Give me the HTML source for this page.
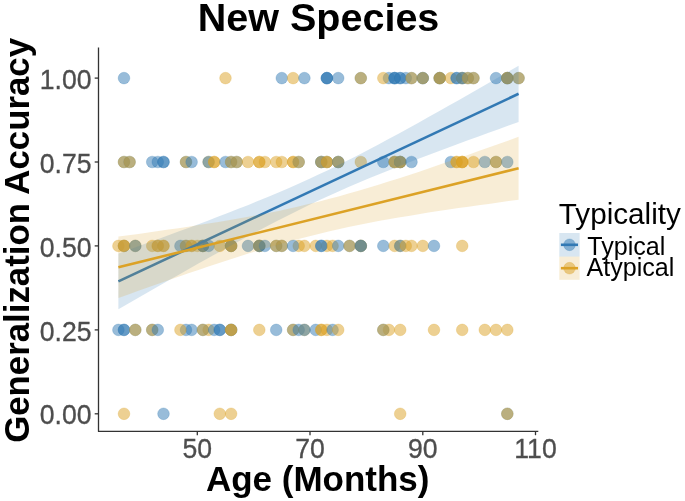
<!DOCTYPE html>
<html><head><meta charset="utf-8"><title>New Species</title>
<style>
html,body{margin:0;padding:0;background:#fff;}
svg{display:block;font-family:"Liberation Sans",sans-serif;}
svg{will-change:transform;}
</style></head>
<body>
<svg width="685" height="501" viewBox="0 0 685 501">
<rect width="685" height="501" fill="#fff"/>
<g id="points">
<circle cx="124.0" cy="78.1" r="5.85" fill="#3279B4" fill-opacity=".5" stroke="#3279B4" stroke-opacity=".28" stroke-width="0.9"/>
<circle cx="225.5" cy="78.1" r="5.85" fill="#DCA226" fill-opacity=".5" stroke="#DCA226" stroke-opacity=".28" stroke-width="0.9"/>
<circle cx="281.8" cy="78.1" r="5.85" fill="#3279B4" fill-opacity=".5" stroke="#3279B4" stroke-opacity=".28" stroke-width="0.9"/>
<circle cx="293.1" cy="78.1" r="5.85" fill="#DCA226" fill-opacity=".5" stroke="#DCA226" stroke-opacity=".28" stroke-width="0.9"/>
<circle cx="304.4" cy="78.1" r="5.85" fill="#3279B4" fill-opacity=".5" stroke="#3279B4" stroke-opacity=".28" stroke-width="0.9"/>
<circle cx="326.9" cy="78.1" r="5.85" fill="#3279B4" fill-opacity=".5" stroke="#3279B4" stroke-opacity=".28" stroke-width="0.9"/>
<circle cx="326.9" cy="78.1" r="5.85" fill="#3279B4" fill-opacity=".5" stroke="#3279B4" stroke-opacity=".28" stroke-width="0.9"/>
<circle cx="326.9" cy="78.1" r="5.85" fill="#3279B4" fill-opacity=".5" stroke="#3279B4" stroke-opacity=".28" stroke-width="0.9"/>
<circle cx="338.2" cy="78.1" r="5.85" fill="#3279B4" fill-opacity=".5" stroke="#3279B4" stroke-opacity=".28" stroke-width="0.9"/>
<circle cx="360.8" cy="78.1" r="5.85" fill="#3279B4" fill-opacity=".5" stroke="#3279B4" stroke-opacity=".28" stroke-width="0.9"/>
<circle cx="360.8" cy="78.1" r="5.85" fill="#DCA226" fill-opacity=".5" stroke="#DCA226" stroke-opacity=".28" stroke-width="0.9"/>
<circle cx="388.9" cy="78.1" r="5.85" fill="#3279B4" fill-opacity=".5" stroke="#3279B4" stroke-opacity=".28" stroke-width="0.9"/>
<circle cx="383.3" cy="78.1" r="5.85" fill="#DCA226" fill-opacity=".5" stroke="#DCA226" stroke-opacity=".28" stroke-width="0.9"/>
<circle cx="394.6" cy="78.1" r="5.85" fill="#3279B4" fill-opacity=".5" stroke="#3279B4" stroke-opacity=".28" stroke-width="0.9"/>
<circle cx="394.6" cy="78.1" r="5.85" fill="#3279B4" fill-opacity=".5" stroke="#3279B4" stroke-opacity=".28" stroke-width="0.9"/>
<circle cx="394.6" cy="78.1" r="5.85" fill="#3279B4" fill-opacity=".5" stroke="#3279B4" stroke-opacity=".28" stroke-width="0.9"/>
<circle cx="400.2" cy="78.1" r="5.85" fill="#3279B4" fill-opacity=".5" stroke="#3279B4" stroke-opacity=".28" stroke-width="0.9"/>
<circle cx="400.2" cy="78.1" r="5.85" fill="#3279B4" fill-opacity=".5" stroke="#3279B4" stroke-opacity=".28" stroke-width="0.9"/>
<circle cx="405.8" cy="78.1" r="5.85" fill="#3279B4" fill-opacity=".5" stroke="#3279B4" stroke-opacity=".28" stroke-width="0.9"/>
<circle cx="411.5" cy="78.1" r="5.85" fill="#3279B4" fill-opacity=".5" stroke="#3279B4" stroke-opacity=".28" stroke-width="0.9"/>
<circle cx="411.5" cy="78.1" r="5.85" fill="#DCA226" fill-opacity=".5" stroke="#DCA226" stroke-opacity=".28" stroke-width="0.9"/>
<circle cx="422.8" cy="78.1" r="5.85" fill="#3279B4" fill-opacity=".5" stroke="#3279B4" stroke-opacity=".28" stroke-width="0.9"/>
<circle cx="422.8" cy="78.1" r="5.85" fill="#3279B4" fill-opacity=".5" stroke="#3279B4" stroke-opacity=".28" stroke-width="0.9"/>
<circle cx="422.8" cy="78.1" r="5.85" fill="#DCA226" fill-opacity=".5" stroke="#DCA226" stroke-opacity=".28" stroke-width="0.9"/>
<circle cx="439.7" cy="78.1" r="5.85" fill="#3279B4" fill-opacity=".5" stroke="#3279B4" stroke-opacity=".28" stroke-width="0.9"/>
<circle cx="439.7" cy="78.1" r="5.85" fill="#DCA226" fill-opacity=".5" stroke="#DCA226" stroke-opacity=".28" stroke-width="0.9"/>
<circle cx="439.7" cy="78.1" r="5.85" fill="#3279B4" fill-opacity=".5" stroke="#3279B4" stroke-opacity=".28" stroke-width="0.9"/>
<circle cx="439.7" cy="78.1" r="5.85" fill="#DCA226" fill-opacity=".5" stroke="#DCA226" stroke-opacity=".28" stroke-width="0.9"/>
<circle cx="450.9" cy="78.1" r="5.85" fill="#DCA226" fill-opacity=".5" stroke="#DCA226" stroke-opacity=".28" stroke-width="0.9"/>
<circle cx="456.6" cy="78.1" r="5.85" fill="#3279B4" fill-opacity=".5" stroke="#3279B4" stroke-opacity=".28" stroke-width="0.9"/>
<circle cx="456.6" cy="78.1" r="5.85" fill="#3279B4" fill-opacity=".5" stroke="#3279B4" stroke-opacity=".28" stroke-width="0.9"/>
<circle cx="462.2" cy="78.1" r="5.85" fill="#3279B4" fill-opacity=".5" stroke="#3279B4" stroke-opacity=".28" stroke-width="0.9"/>
<circle cx="462.2" cy="78.1" r="5.85" fill="#DCA226" fill-opacity=".5" stroke="#DCA226" stroke-opacity=".28" stroke-width="0.9"/>
<circle cx="462.2" cy="78.1" r="5.85" fill="#3279B4" fill-opacity=".5" stroke="#3279B4" stroke-opacity=".28" stroke-width="0.9"/>
<circle cx="467.9" cy="78.1" r="5.85" fill="#3279B4" fill-opacity=".5" stroke="#3279B4" stroke-opacity=".28" stroke-width="0.9"/>
<circle cx="467.9" cy="78.1" r="5.85" fill="#DCA226" fill-opacity=".5" stroke="#DCA226" stroke-opacity=".28" stroke-width="0.9"/>
<circle cx="473.5" cy="78.1" r="5.85" fill="#3279B4" fill-opacity=".5" stroke="#3279B4" stroke-opacity=".28" stroke-width="0.9"/>
<circle cx="473.5" cy="78.1" r="5.85" fill="#DCA226" fill-opacity=".5" stroke="#DCA226" stroke-opacity=".28" stroke-width="0.9"/>
<circle cx="496.0" cy="78.1" r="5.85" fill="#3279B4" fill-opacity=".5" stroke="#3279B4" stroke-opacity=".28" stroke-width="0.9"/>
<circle cx="507.3" cy="78.1" r="5.85" fill="#3279B4" fill-opacity=".5" stroke="#3279B4" stroke-opacity=".28" stroke-width="0.9"/>
<circle cx="507.3" cy="78.1" r="5.85" fill="#DCA226" fill-opacity=".5" stroke="#DCA226" stroke-opacity=".28" stroke-width="0.9"/>
<circle cx="507.3" cy="78.1" r="5.85" fill="#3279B4" fill-opacity=".5" stroke="#3279B4" stroke-opacity=".28" stroke-width="0.9"/>
<circle cx="507.3" cy="78.1" r="5.85" fill="#DCA226" fill-opacity=".5" stroke="#DCA226" stroke-opacity=".28" stroke-width="0.9"/>
<circle cx="518.6" cy="78.1" r="5.85" fill="#3279B4" fill-opacity=".5" stroke="#3279B4" stroke-opacity=".28" stroke-width="0.9"/>
<circle cx="518.6" cy="78.1" r="5.85" fill="#DCA226" fill-opacity=".5" stroke="#DCA226" stroke-opacity=".28" stroke-width="0.9"/>
<circle cx="124.0" cy="162.0" r="5.85" fill="#3279B4" fill-opacity=".5" stroke="#3279B4" stroke-opacity=".28" stroke-width="0.9"/>
<circle cx="124.0" cy="162.0" r="5.85" fill="#DCA226" fill-opacity=".5" stroke="#DCA226" stroke-opacity=".28" stroke-width="0.9"/>
<circle cx="129.6" cy="162.0" r="5.85" fill="#3279B4" fill-opacity=".5" stroke="#3279B4" stroke-opacity=".28" stroke-width="0.9"/>
<circle cx="129.6" cy="162.0" r="5.85" fill="#DCA226" fill-opacity=".5" stroke="#DCA226" stroke-opacity=".28" stroke-width="0.9"/>
<circle cx="152.2" cy="162.0" r="5.85" fill="#3279B4" fill-opacity=".5" stroke="#3279B4" stroke-opacity=".28" stroke-width="0.9"/>
<circle cx="157.8" cy="162.0" r="5.85" fill="#3279B4" fill-opacity=".5" stroke="#3279B4" stroke-opacity=".28" stroke-width="0.9"/>
<circle cx="163.5" cy="162.0" r="5.85" fill="#3279B4" fill-opacity=".5" stroke="#3279B4" stroke-opacity=".28" stroke-width="0.9"/>
<circle cx="163.5" cy="162.0" r="5.85" fill="#3279B4" fill-opacity=".5" stroke="#3279B4" stroke-opacity=".28" stroke-width="0.9"/>
<circle cx="186.0" cy="162.0" r="5.85" fill="#3279B4" fill-opacity=".5" stroke="#3279B4" stroke-opacity=".28" stroke-width="0.9"/>
<circle cx="186.0" cy="162.0" r="5.85" fill="#DCA226" fill-opacity=".5" stroke="#DCA226" stroke-opacity=".28" stroke-width="0.9"/>
<circle cx="191.6" cy="162.0" r="5.85" fill="#3279B4" fill-opacity=".5" stroke="#3279B4" stroke-opacity=".28" stroke-width="0.9"/>
<circle cx="208.6" cy="162.0" r="5.85" fill="#DCA226" fill-opacity=".5" stroke="#DCA226" stroke-opacity=".28" stroke-width="0.9"/>
<circle cx="208.6" cy="162.0" r="5.85" fill="#3279B4" fill-opacity=".5" stroke="#3279B4" stroke-opacity=".28" stroke-width="0.9"/>
<circle cx="214.2" cy="162.0" r="5.85" fill="#DCA226" fill-opacity=".5" stroke="#DCA226" stroke-opacity=".28" stroke-width="0.9"/>
<circle cx="214.2" cy="162.0" r="5.85" fill="#DCA226" fill-opacity=".5" stroke="#DCA226" stroke-opacity=".28" stroke-width="0.9"/>
<circle cx="225.5" cy="162.0" r="5.85" fill="#3279B4" fill-opacity=".5" stroke="#3279B4" stroke-opacity=".28" stroke-width="0.9"/>
<circle cx="231.1" cy="162.0" r="5.85" fill="#3279B4" fill-opacity=".5" stroke="#3279B4" stroke-opacity=".28" stroke-width="0.9"/>
<circle cx="231.1" cy="162.0" r="5.85" fill="#DCA226" fill-opacity=".5" stroke="#DCA226" stroke-opacity=".28" stroke-width="0.9"/>
<circle cx="236.7" cy="162.0" r="5.85" fill="#3279B4" fill-opacity=".5" stroke="#3279B4" stroke-opacity=".28" stroke-width="0.9"/>
<circle cx="236.7" cy="162.0" r="5.85" fill="#DCA226" fill-opacity=".5" stroke="#DCA226" stroke-opacity=".28" stroke-width="0.9"/>
<circle cx="248.0" cy="162.0" r="5.85" fill="#DCA226" fill-opacity=".5" stroke="#DCA226" stroke-opacity=".28" stroke-width="0.9"/>
<circle cx="259.3" cy="162.0" r="5.85" fill="#DCA226" fill-opacity=".5" stroke="#DCA226" stroke-opacity=".28" stroke-width="0.9"/>
<circle cx="259.3" cy="162.0" r="5.85" fill="#DCA226" fill-opacity=".5" stroke="#DCA226" stroke-opacity=".28" stroke-width="0.9"/>
<circle cx="264.9" cy="162.0" r="5.85" fill="#DCA226" fill-opacity=".5" stroke="#DCA226" stroke-opacity=".28" stroke-width="0.9"/>
<circle cx="276.2" cy="162.0" r="5.85" fill="#DCA226" fill-opacity=".5" stroke="#DCA226" stroke-opacity=".28" stroke-width="0.9"/>
<circle cx="281.8" cy="162.0" r="5.85" fill="#DCA226" fill-opacity=".5" stroke="#DCA226" stroke-opacity=".28" stroke-width="0.9"/>
<circle cx="293.1" cy="162.0" r="5.85" fill="#DCA226" fill-opacity=".5" stroke="#DCA226" stroke-opacity=".28" stroke-width="0.9"/>
<circle cx="293.1" cy="162.0" r="5.85" fill="#DCA226" fill-opacity=".5" stroke="#DCA226" stroke-opacity=".28" stroke-width="0.9"/>
<circle cx="298.7" cy="162.0" r="5.85" fill="#3279B4" fill-opacity=".5" stroke="#3279B4" stroke-opacity=".28" stroke-width="0.9"/>
<circle cx="298.7" cy="162.0" r="5.85" fill="#DCA226" fill-opacity=".5" stroke="#DCA226" stroke-opacity=".28" stroke-width="0.9"/>
<circle cx="321.3" cy="162.0" r="5.85" fill="#3279B4" fill-opacity=".5" stroke="#3279B4" stroke-opacity=".28" stroke-width="0.9"/>
<circle cx="321.3" cy="162.0" r="5.85" fill="#3279B4" fill-opacity=".5" stroke="#3279B4" stroke-opacity=".28" stroke-width="0.9"/>
<circle cx="321.3" cy="162.0" r="5.85" fill="#DCA226" fill-opacity=".5" stroke="#DCA226" stroke-opacity=".28" stroke-width="0.9"/>
<circle cx="326.9" cy="162.0" r="5.85" fill="#3279B4" fill-opacity=".5" stroke="#3279B4" stroke-opacity=".28" stroke-width="0.9"/>
<circle cx="326.9" cy="162.0" r="5.85" fill="#DCA226" fill-opacity=".5" stroke="#DCA226" stroke-opacity=".28" stroke-width="0.9"/>
<circle cx="326.9" cy="162.0" r="5.85" fill="#DCA226" fill-opacity=".5" stroke="#DCA226" stroke-opacity=".28" stroke-width="0.9"/>
<circle cx="338.2" cy="162.0" r="5.85" fill="#3279B4" fill-opacity=".5" stroke="#3279B4" stroke-opacity=".28" stroke-width="0.9"/>
<circle cx="338.2" cy="162.0" r="5.85" fill="#3279B4" fill-opacity=".5" stroke="#3279B4" stroke-opacity=".28" stroke-width="0.9"/>
<circle cx="338.2" cy="162.0" r="5.85" fill="#DCA226" fill-opacity=".5" stroke="#DCA226" stroke-opacity=".28" stroke-width="0.9"/>
<circle cx="360.8" cy="162.0" r="5.85" fill="#DCA226" fill-opacity=".5" stroke="#DCA226" stroke-opacity=".28" stroke-width="0.9"/>
<circle cx="383.3" cy="162.0" r="5.85" fill="#3279B4" fill-opacity=".5" stroke="#3279B4" stroke-opacity=".28" stroke-width="0.9"/>
<circle cx="394.6" cy="162.0" r="5.85" fill="#3279B4" fill-opacity=".5" stroke="#3279B4" stroke-opacity=".28" stroke-width="0.9"/>
<circle cx="394.6" cy="162.0" r="5.85" fill="#DCA226" fill-opacity=".5" stroke="#DCA226" stroke-opacity=".28" stroke-width="0.9"/>
<circle cx="394.6" cy="162.0" r="5.85" fill="#DCA226" fill-opacity=".5" stroke="#DCA226" stroke-opacity=".28" stroke-width="0.9"/>
<circle cx="400.2" cy="162.0" r="5.85" fill="#3279B4" fill-opacity=".5" stroke="#3279B4" stroke-opacity=".28" stroke-width="0.9"/>
<circle cx="400.2" cy="162.0" r="5.85" fill="#DCA226" fill-opacity=".5" stroke="#DCA226" stroke-opacity=".28" stroke-width="0.9"/>
<circle cx="400.2" cy="162.0" r="5.85" fill="#3279B4" fill-opacity=".5" stroke="#3279B4" stroke-opacity=".28" stroke-width="0.9"/>
<circle cx="400.2" cy="162.0" r="5.85" fill="#DCA226" fill-opacity=".5" stroke="#DCA226" stroke-opacity=".28" stroke-width="0.9"/>
<circle cx="411.5" cy="162.0" r="5.85" fill="#3279B4" fill-opacity=".5" stroke="#3279B4" stroke-opacity=".28" stroke-width="0.9"/>
<circle cx="450.9" cy="162.0" r="5.85" fill="#3279B4" fill-opacity=".5" stroke="#3279B4" stroke-opacity=".28" stroke-width="0.9"/>
<circle cx="456.6" cy="162.0" r="5.85" fill="#DCA226" fill-opacity=".5" stroke="#DCA226" stroke-opacity=".28" stroke-width="0.9"/>
<circle cx="456.6" cy="162.0" r="5.85" fill="#DCA226" fill-opacity=".5" stroke="#DCA226" stroke-opacity=".28" stroke-width="0.9"/>
<circle cx="462.2" cy="162.0" r="5.85" fill="#DCA226" fill-opacity=".5" stroke="#DCA226" stroke-opacity=".28" stroke-width="0.9"/>
<circle cx="462.2" cy="162.0" r="5.85" fill="#DCA226" fill-opacity=".5" stroke="#DCA226" stroke-opacity=".28" stroke-width="0.9"/>
<circle cx="462.2" cy="162.0" r="5.85" fill="#DCA226" fill-opacity=".5" stroke="#DCA226" stroke-opacity=".28" stroke-width="0.9"/>
<circle cx="473.5" cy="162.0" r="5.85" fill="#DCA226" fill-opacity=".5" stroke="#DCA226" stroke-opacity=".28" stroke-width="0.9"/>
<circle cx="484.8" cy="162.0" r="5.85" fill="#3279B4" fill-opacity=".5" stroke="#3279B4" stroke-opacity=".28" stroke-width="0.9"/>
<circle cx="496.0" cy="162.0" r="5.85" fill="#3279B4" fill-opacity=".5" stroke="#3279B4" stroke-opacity=".28" stroke-width="0.9"/>
<circle cx="496.0" cy="162.0" r="5.85" fill="#DCA226" fill-opacity=".5" stroke="#DCA226" stroke-opacity=".28" stroke-width="0.9"/>
<circle cx="507.3" cy="162.0" r="5.85" fill="#3279B4" fill-opacity=".5" stroke="#3279B4" stroke-opacity=".28" stroke-width="0.9"/>
<circle cx="118.4" cy="245.9" r="5.85" fill="#DCA226" fill-opacity=".5" stroke="#DCA226" stroke-opacity=".28" stroke-width="0.9"/>
<circle cx="124.0" cy="245.9" r="5.85" fill="#3279B4" fill-opacity=".5" stroke="#3279B4" stroke-opacity=".28" stroke-width="0.9"/>
<circle cx="124.0" cy="245.9" r="5.85" fill="#DCA226" fill-opacity=".5" stroke="#DCA226" stroke-opacity=".28" stroke-width="0.9"/>
<circle cx="124.0" cy="245.9" r="5.85" fill="#DCA226" fill-opacity=".5" stroke="#DCA226" stroke-opacity=".28" stroke-width="0.9"/>
<circle cx="135.3" cy="245.9" r="5.85" fill="#DCA226" fill-opacity=".5" stroke="#DCA226" stroke-opacity=".28" stroke-width="0.9"/>
<circle cx="135.3" cy="245.9" r="5.85" fill="#3279B4" fill-opacity=".5" stroke="#3279B4" stroke-opacity=".28" stroke-width="0.9"/>
<circle cx="152.2" cy="245.9" r="5.85" fill="#DCA226" fill-opacity=".5" stroke="#DCA226" stroke-opacity=".28" stroke-width="0.9"/>
<circle cx="157.8" cy="245.9" r="5.85" fill="#DCA226" fill-opacity=".5" stroke="#DCA226" stroke-opacity=".28" stroke-width="0.9"/>
<circle cx="157.8" cy="245.9" r="5.85" fill="#DCA226" fill-opacity=".5" stroke="#DCA226" stroke-opacity=".28" stroke-width="0.9"/>
<circle cx="163.5" cy="245.9" r="5.85" fill="#DCA226" fill-opacity=".5" stroke="#DCA226" stroke-opacity=".28" stroke-width="0.9"/>
<circle cx="163.5" cy="245.9" r="5.85" fill="#DCA226" fill-opacity=".5" stroke="#DCA226" stroke-opacity=".28" stroke-width="0.9"/>
<circle cx="180.4" cy="245.9" r="5.85" fill="#3279B4" fill-opacity=".5" stroke="#3279B4" stroke-opacity=".28" stroke-width="0.9"/>
<circle cx="186.0" cy="245.9" r="5.85" fill="#3279B4" fill-opacity=".5" stroke="#3279B4" stroke-opacity=".28" stroke-width="0.9"/>
<circle cx="186.0" cy="245.9" r="5.85" fill="#DCA226" fill-opacity=".5" stroke="#DCA226" stroke-opacity=".28" stroke-width="0.9"/>
<circle cx="191.6" cy="245.9" r="5.85" fill="#DCA226" fill-opacity=".5" stroke="#DCA226" stroke-opacity=".28" stroke-width="0.9"/>
<circle cx="191.6" cy="245.9" r="5.85" fill="#DCA226" fill-opacity=".5" stroke="#DCA226" stroke-opacity=".28" stroke-width="0.9"/>
<circle cx="197.3" cy="245.9" r="5.85" fill="#DCA226" fill-opacity=".5" stroke="#DCA226" stroke-opacity=".28" stroke-width="0.9"/>
<circle cx="202.9" cy="245.9" r="5.85" fill="#3279B4" fill-opacity=".5" stroke="#3279B4" stroke-opacity=".28" stroke-width="0.9"/>
<circle cx="202.9" cy="245.9" r="5.85" fill="#DCA226" fill-opacity=".5" stroke="#DCA226" stroke-opacity=".28" stroke-width="0.9"/>
<circle cx="202.9" cy="245.9" r="5.85" fill="#DCA226" fill-opacity=".5" stroke="#DCA226" stroke-opacity=".28" stroke-width="0.9"/>
<circle cx="202.9" cy="245.9" r="5.85" fill="#3279B4" fill-opacity=".5" stroke="#3279B4" stroke-opacity=".28" stroke-width="0.9"/>
<circle cx="208.6" cy="245.9" r="5.85" fill="#3279B4" fill-opacity=".5" stroke="#3279B4" stroke-opacity=".28" stroke-width="0.9"/>
<circle cx="219.8" cy="245.9" r="5.85" fill="#DCA226" fill-opacity=".5" stroke="#DCA226" stroke-opacity=".28" stroke-width="0.9"/>
<circle cx="231.1" cy="245.9" r="5.85" fill="#3279B4" fill-opacity=".5" stroke="#3279B4" stroke-opacity=".28" stroke-width="0.9"/>
<circle cx="231.1" cy="245.9" r="5.85" fill="#DCA226" fill-opacity=".5" stroke="#DCA226" stroke-opacity=".28" stroke-width="0.9"/>
<circle cx="231.1" cy="245.9" r="5.85" fill="#3279B4" fill-opacity=".5" stroke="#3279B4" stroke-opacity=".28" stroke-width="0.9"/>
<circle cx="231.1" cy="245.9" r="5.85" fill="#DCA226" fill-opacity=".5" stroke="#DCA226" stroke-opacity=".28" stroke-width="0.9"/>
<circle cx="248.0" cy="245.9" r="5.85" fill="#3279B4" fill-opacity=".5" stroke="#3279B4" stroke-opacity=".28" stroke-width="0.9"/>
<circle cx="259.3" cy="245.9" r="5.85" fill="#3279B4" fill-opacity=".5" stroke="#3279B4" stroke-opacity=".28" stroke-width="0.9"/>
<circle cx="259.3" cy="245.9" r="5.85" fill="#DCA226" fill-opacity=".5" stroke="#DCA226" stroke-opacity=".28" stroke-width="0.9"/>
<circle cx="259.3" cy="245.9" r="5.85" fill="#DCA226" fill-opacity=".5" stroke="#DCA226" stroke-opacity=".28" stroke-width="0.9"/>
<circle cx="259.3" cy="245.9" r="5.85" fill="#3279B4" fill-opacity=".5" stroke="#3279B4" stroke-opacity=".28" stroke-width="0.9"/>
<circle cx="264.9" cy="245.9" r="5.85" fill="#3279B4" fill-opacity=".5" stroke="#3279B4" stroke-opacity=".28" stroke-width="0.9"/>
<circle cx="276.2" cy="245.9" r="5.85" fill="#3279B4" fill-opacity=".5" stroke="#3279B4" stroke-opacity=".28" stroke-width="0.9"/>
<circle cx="276.2" cy="245.9" r="5.85" fill="#DCA226" fill-opacity=".5" stroke="#DCA226" stroke-opacity=".28" stroke-width="0.9"/>
<circle cx="281.8" cy="245.9" r="5.85" fill="#3279B4" fill-opacity=".5" stroke="#3279B4" stroke-opacity=".28" stroke-width="0.9"/>
<circle cx="281.8" cy="245.9" r="5.85" fill="#DCA226" fill-opacity=".5" stroke="#DCA226" stroke-opacity=".28" stroke-width="0.9"/>
<circle cx="298.7" cy="245.9" r="5.85" fill="#DCA226" fill-opacity=".5" stroke="#DCA226" stroke-opacity=".28" stroke-width="0.9"/>
<circle cx="293.1" cy="245.9" r="5.85" fill="#3279B4" fill-opacity=".5" stroke="#3279B4" stroke-opacity=".28" stroke-width="0.9"/>
<circle cx="304.4" cy="245.9" r="5.85" fill="#DCA226" fill-opacity=".5" stroke="#DCA226" stroke-opacity=".28" stroke-width="0.9"/>
<circle cx="315.7" cy="245.9" r="5.85" fill="#DCA226" fill-opacity=".5" stroke="#DCA226" stroke-opacity=".28" stroke-width="0.9"/>
<circle cx="326.9" cy="245.9" r="5.85" fill="#DCA226" fill-opacity=".5" stroke="#DCA226" stroke-opacity=".28" stroke-width="0.9"/>
<circle cx="321.3" cy="245.9" r="5.85" fill="#3279B4" fill-opacity=".5" stroke="#3279B4" stroke-opacity=".28" stroke-width="0.9"/>
<circle cx="321.3" cy="245.9" r="5.85" fill="#3279B4" fill-opacity=".5" stroke="#3279B4" stroke-opacity=".28" stroke-width="0.9"/>
<circle cx="332.6" cy="245.9" r="5.85" fill="#DCA226" fill-opacity=".5" stroke="#DCA226" stroke-opacity=".28" stroke-width="0.9"/>
<circle cx="338.2" cy="245.9" r="5.85" fill="#3279B4" fill-opacity=".5" stroke="#3279B4" stroke-opacity=".28" stroke-width="0.9"/>
<circle cx="349.5" cy="245.9" r="5.85" fill="#3279B4" fill-opacity=".5" stroke="#3279B4" stroke-opacity=".28" stroke-width="0.9"/>
<circle cx="349.5" cy="245.9" r="5.85" fill="#DCA226" fill-opacity=".5" stroke="#DCA226" stroke-opacity=".28" stroke-width="0.9"/>
<circle cx="360.8" cy="245.9" r="5.85" fill="#DCA226" fill-opacity=".5" stroke="#DCA226" stroke-opacity=".28" stroke-width="0.9"/>
<circle cx="360.8" cy="245.9" r="5.85" fill="#3279B4" fill-opacity=".5" stroke="#3279B4" stroke-opacity=".28" stroke-width="0.9"/>
<circle cx="360.8" cy="245.9" r="5.85" fill="#DCA226" fill-opacity=".5" stroke="#DCA226" stroke-opacity=".28" stroke-width="0.9"/>
<circle cx="360.8" cy="245.9" r="5.85" fill="#3279B4" fill-opacity=".5" stroke="#3279B4" stroke-opacity=".28" stroke-width="0.9"/>
<circle cx="383.3" cy="245.9" r="5.85" fill="#3279B4" fill-opacity=".5" stroke="#3279B4" stroke-opacity=".28" stroke-width="0.9"/>
<circle cx="394.6" cy="245.9" r="5.85" fill="#DCA226" fill-opacity=".5" stroke="#DCA226" stroke-opacity=".28" stroke-width="0.9"/>
<circle cx="400.2" cy="245.9" r="5.85" fill="#DCA226" fill-opacity=".5" stroke="#DCA226" stroke-opacity=".28" stroke-width="0.9"/>
<circle cx="400.2" cy="245.9" r="5.85" fill="#3279B4" fill-opacity=".5" stroke="#3279B4" stroke-opacity=".28" stroke-width="0.9"/>
<circle cx="405.8" cy="245.9" r="5.85" fill="#DCA226" fill-opacity=".5" stroke="#DCA226" stroke-opacity=".28" stroke-width="0.9"/>
<circle cx="411.5" cy="245.9" r="5.85" fill="#DCA226" fill-opacity=".5" stroke="#DCA226" stroke-opacity=".28" stroke-width="0.9"/>
<circle cx="422.8" cy="245.9" r="5.85" fill="#DCA226" fill-opacity=".5" stroke="#DCA226" stroke-opacity=".28" stroke-width="0.9"/>
<circle cx="434.0" cy="245.9" r="5.85" fill="#3279B4" fill-opacity=".5" stroke="#3279B4" stroke-opacity=".28" stroke-width="0.9"/>
<circle cx="462.2" cy="245.9" r="5.85" fill="#DCA226" fill-opacity=".5" stroke="#DCA226" stroke-opacity=".28" stroke-width="0.9"/>
<circle cx="118.4" cy="329.9" r="5.85" fill="#3279B4" fill-opacity=".5" stroke="#3279B4" stroke-opacity=".28" stroke-width="0.9"/>
<circle cx="124.0" cy="329.9" r="5.85" fill="#3279B4" fill-opacity=".5" stroke="#3279B4" stroke-opacity=".28" stroke-width="0.9"/>
<circle cx="124.0" cy="329.9" r="5.85" fill="#3279B4" fill-opacity=".5" stroke="#3279B4" stroke-opacity=".28" stroke-width="0.9"/>
<circle cx="135.3" cy="329.9" r="5.85" fill="#3279B4" fill-opacity=".5" stroke="#3279B4" stroke-opacity=".28" stroke-width="0.9"/>
<circle cx="135.3" cy="329.9" r="5.85" fill="#DCA226" fill-opacity=".5" stroke="#DCA226" stroke-opacity=".28" stroke-width="0.9"/>
<circle cx="152.2" cy="329.9" r="5.85" fill="#3279B4" fill-opacity=".5" stroke="#3279B4" stroke-opacity=".28" stroke-width="0.9"/>
<circle cx="152.2" cy="329.9" r="5.85" fill="#DCA226" fill-opacity=".5" stroke="#DCA226" stroke-opacity=".28" stroke-width="0.9"/>
<circle cx="157.8" cy="329.9" r="5.85" fill="#3279B4" fill-opacity=".5" stroke="#3279B4" stroke-opacity=".28" stroke-width="0.9"/>
<circle cx="186.0" cy="329.9" r="5.85" fill="#3279B4" fill-opacity=".5" stroke="#3279B4" stroke-opacity=".28" stroke-width="0.9"/>
<circle cx="191.6" cy="329.9" r="5.85" fill="#3279B4" fill-opacity=".5" stroke="#3279B4" stroke-opacity=".28" stroke-width="0.9"/>
<circle cx="180.4" cy="329.9" r="5.85" fill="#DCA226" fill-opacity=".5" stroke="#DCA226" stroke-opacity=".28" stroke-width="0.9"/>
<circle cx="208.6" cy="329.9" r="5.85" fill="#DCA226" fill-opacity=".5" stroke="#DCA226" stroke-opacity=".28" stroke-width="0.9"/>
<circle cx="202.9" cy="329.9" r="5.85" fill="#3279B4" fill-opacity=".5" stroke="#3279B4" stroke-opacity=".28" stroke-width="0.9"/>
<circle cx="202.9" cy="329.9" r="5.85" fill="#DCA226" fill-opacity=".5" stroke="#DCA226" stroke-opacity=".28" stroke-width="0.9"/>
<circle cx="214.2" cy="329.9" r="5.85" fill="#3279B4" fill-opacity=".5" stroke="#3279B4" stroke-opacity=".28" stroke-width="0.9"/>
<circle cx="219.8" cy="329.9" r="5.85" fill="#3279B4" fill-opacity=".5" stroke="#3279B4" stroke-opacity=".28" stroke-width="0.9"/>
<circle cx="219.8" cy="329.9" r="5.85" fill="#3279B4" fill-opacity=".5" stroke="#3279B4" stroke-opacity=".28" stroke-width="0.9"/>
<circle cx="231.1" cy="329.9" r="5.85" fill="#3279B4" fill-opacity=".5" stroke="#3279B4" stroke-opacity=".28" stroke-width="0.9"/>
<circle cx="231.1" cy="329.9" r="5.85" fill="#3279B4" fill-opacity=".5" stroke="#3279B4" stroke-opacity=".28" stroke-width="0.9"/>
<circle cx="231.1" cy="329.9" r="5.85" fill="#DCA226" fill-opacity=".5" stroke="#DCA226" stroke-opacity=".28" stroke-width="0.9"/>
<circle cx="231.1" cy="329.9" r="5.85" fill="#DCA226" fill-opacity=".5" stroke="#DCA226" stroke-opacity=".28" stroke-width="0.9"/>
<circle cx="259.3" cy="329.9" r="5.85" fill="#DCA226" fill-opacity=".5" stroke="#DCA226" stroke-opacity=".28" stroke-width="0.9"/>
<circle cx="276.2" cy="329.9" r="5.85" fill="#3279B4" fill-opacity=".5" stroke="#3279B4" stroke-opacity=".28" stroke-width="0.9"/>
<circle cx="293.1" cy="329.9" r="5.85" fill="#3279B4" fill-opacity=".5" stroke="#3279B4" stroke-opacity=".28" stroke-width="0.9"/>
<circle cx="293.1" cy="329.9" r="5.85" fill="#DCA226" fill-opacity=".5" stroke="#DCA226" stroke-opacity=".28" stroke-width="0.9"/>
<circle cx="298.7" cy="329.9" r="5.85" fill="#3279B4" fill-opacity=".5" stroke="#3279B4" stroke-opacity=".28" stroke-width="0.9"/>
<circle cx="304.4" cy="329.9" r="5.85" fill="#DCA226" fill-opacity=".5" stroke="#DCA226" stroke-opacity=".28" stroke-width="0.9"/>
<circle cx="304.4" cy="329.9" r="5.85" fill="#3279B4" fill-opacity=".5" stroke="#3279B4" stroke-opacity=".28" stroke-width="0.9"/>
<circle cx="315.7" cy="329.9" r="5.85" fill="#3279B4" fill-opacity=".5" stroke="#3279B4" stroke-opacity=".28" stroke-width="0.9"/>
<circle cx="321.3" cy="329.9" r="5.85" fill="#DCA226" fill-opacity=".5" stroke="#DCA226" stroke-opacity=".28" stroke-width="0.9"/>
<circle cx="321.3" cy="329.9" r="5.85" fill="#DCA226" fill-opacity=".5" stroke="#DCA226" stroke-opacity=".28" stroke-width="0.9"/>
<circle cx="326.9" cy="329.9" r="5.85" fill="#DCA226" fill-opacity=".5" stroke="#DCA226" stroke-opacity=".28" stroke-width="0.9"/>
<circle cx="332.6" cy="329.9" r="5.85" fill="#3279B4" fill-opacity=".5" stroke="#3279B4" stroke-opacity=".28" stroke-width="0.9"/>
<circle cx="338.2" cy="329.9" r="5.85" fill="#DCA226" fill-opacity=".5" stroke="#DCA226" stroke-opacity=".28" stroke-width="0.9"/>
<circle cx="388.9" cy="329.9" r="5.85" fill="#DCA226" fill-opacity=".5" stroke="#DCA226" stroke-opacity=".28" stroke-width="0.9"/>
<circle cx="383.3" cy="329.9" r="5.85" fill="#3279B4" fill-opacity=".5" stroke="#3279B4" stroke-opacity=".28" stroke-width="0.9"/>
<circle cx="383.3" cy="329.9" r="5.85" fill="#DCA226" fill-opacity=".5" stroke="#DCA226" stroke-opacity=".28" stroke-width="0.9"/>
<circle cx="400.2" cy="329.9" r="5.85" fill="#DCA226" fill-opacity=".5" stroke="#DCA226" stroke-opacity=".28" stroke-width="0.9"/>
<circle cx="434.0" cy="329.9" r="5.85" fill="#DCA226" fill-opacity=".5" stroke="#DCA226" stroke-opacity=".28" stroke-width="0.9"/>
<circle cx="462.2" cy="329.9" r="5.85" fill="#DCA226" fill-opacity=".5" stroke="#DCA226" stroke-opacity=".28" stroke-width="0.9"/>
<circle cx="484.8" cy="329.9" r="5.85" fill="#DCA226" fill-opacity=".5" stroke="#DCA226" stroke-opacity=".28" stroke-width="0.9"/>
<circle cx="496.0" cy="329.9" r="5.85" fill="#DCA226" fill-opacity=".5" stroke="#DCA226" stroke-opacity=".28" stroke-width="0.9"/>
<circle cx="507.3" cy="329.9" r="5.85" fill="#DCA226" fill-opacity=".5" stroke="#DCA226" stroke-opacity=".28" stroke-width="0.9"/>
<circle cx="124.0" cy="413.8" r="5.85" fill="#DCA226" fill-opacity=".5" stroke="#DCA226" stroke-opacity=".28" stroke-width="0.9"/>
<circle cx="163.5" cy="413.8" r="5.85" fill="#3279B4" fill-opacity=".5" stroke="#3279B4" stroke-opacity=".28" stroke-width="0.9"/>
<circle cx="219.8" cy="413.8" r="5.85" fill="#DCA226" fill-opacity=".5" stroke="#DCA226" stroke-opacity=".28" stroke-width="0.9"/>
<circle cx="231.1" cy="413.8" r="5.85" fill="#DCA226" fill-opacity=".5" stroke="#DCA226" stroke-opacity=".28" stroke-width="0.9"/>
<circle cx="400.2" cy="413.8" r="5.85" fill="#DCA226" fill-opacity=".5" stroke="#DCA226" stroke-opacity=".28" stroke-width="0.9"/>
<circle cx="507.3" cy="413.8" r="5.85" fill="#3279B4" fill-opacity=".5" stroke="#3279B4" stroke-opacity=".28" stroke-width="0.9"/>
<circle cx="507.3" cy="413.8" r="5.85" fill="#DCA226" fill-opacity=".5" stroke="#DCA226" stroke-opacity=".28" stroke-width="0.9"/>
</g>
<g id="smooth">
<polygon points="118.4,253.5 128.4,249.9 138.4,246.3 148.4,242.6 158.4,239.0 168.4,235.3 178.4,231.6 188.4,227.9 198.4,224.2 208.4,220.4 218.4,216.6 228.4,212.8 238.4,208.8 248.4,204.9 258.4,200.8 268.4,196.7 278.5,192.5 288.5,188.2 298.5,183.8 308.5,179.3 318.5,174.6 328.5,169.9 338.5,165.0 348.5,160.0 358.5,154.9 368.5,149.7 378.5,144.4 388.5,139.1 398.5,133.7 408.5,128.2 418.5,122.7 428.5,117.1 438.5,111.5 448.6,105.8 458.6,100.2 468.6,94.5 478.6,88.7 488.6,83.0 498.6,77.2 508.6,71.5 518.6,65.7 518.6,122.0 508.6,125.5 498.6,129.2 488.6,132.8 478.6,136.4 468.6,140.1 458.6,143.8 448.6,147.5 438.5,151.2 428.5,155.0 418.5,158.8 408.5,162.6 398.5,166.5 388.5,170.5 378.5,174.5 368.5,178.6 358.5,182.8 348.5,187.1 338.5,191.5 328.5,196.0 318.5,200.6 308.5,205.3 298.5,210.2 288.5,215.2 278.5,220.2 268.4,225.4 258.4,230.7 248.4,236.0 238.4,241.4 228.4,246.9 218.4,252.4 208.4,258.0 198.4,263.6 188.4,269.2 178.4,274.9 168.4,280.6 158.4,286.3 148.4,292.0 138.4,297.8 128.4,303.6 118.4,309.3" fill="#3279B4" fill-opacity=".19"/>
<line x1="118.4" y1="281.4" x2="518.6" y2="93.8" stroke="#3279B4" stroke-width="2.6"/>
<polygon points="118.4,236.6 128.4,235.2 138.4,233.9 148.4,232.5 158.4,231.1 168.4,229.6 178.4,228.2 188.4,226.7 198.4,225.1 208.4,223.6 218.4,221.9 228.4,220.3 238.4,218.5 248.4,216.7 258.4,214.9 268.4,212.9 278.5,210.9 288.5,208.7 298.5,206.5 308.5,204.1 318.5,201.7 328.5,199.1 338.5,196.4 348.5,193.6 358.5,190.8 368.5,187.8 378.5,184.7 388.5,181.6 398.5,178.4 408.5,175.2 418.5,171.9 428.5,168.5 438.5,165.1 448.6,161.6 458.6,158.2 468.6,154.7 478.6,151.1 488.6,147.6 498.6,144.0 508.6,140.4 518.6,136.8 518.6,199.8 508.6,201.1 498.6,202.5 488.6,203.9 478.6,205.2 468.6,206.7 458.6,208.1 448.6,209.6 438.5,211.1 428.5,212.6 418.5,214.2 408.5,215.9 398.5,217.6 388.5,219.3 378.5,221.1 368.5,223.0 358.5,225.0 348.5,227.1 338.5,229.3 328.5,231.6 318.5,233.9 308.5,236.4 298.5,239.0 288.5,241.7 278.5,244.6 268.4,247.5 258.4,250.5 248.4,253.5 238.4,256.7 228.4,259.9 218.4,263.2 208.4,266.5 198.4,269.9 188.4,273.3 178.4,276.7 168.4,280.2 158.4,283.7 148.4,287.3 138.4,290.8 128.4,294.4 118.4,298.0" fill="#DCA226" fill-opacity=".19"/>
<line x1="118.4" y1="267.3" x2="518.6" y2="168.3" stroke="#DCA226" stroke-width="2.6"/>
</g>
<g id="axes">
<path d="M98.5 47.4 V431.4 H538.3" fill="none" stroke="#333333" stroke-width="1.3" stroke-linejoin="round"/>
<line x1="94.7" x2="98.5" y1="413.8" y2="413.8" stroke="#333333" stroke-width="1.3"/>
<line x1="94.7" x2="98.5" y1="329.9" y2="329.9" stroke="#333333" stroke-width="1.3"/>
<line x1="94.7" x2="98.5" y1="245.9" y2="245.9" stroke="#333333" stroke-width="1.3"/>
<line x1="94.7" x2="98.5" y1="162.0" y2="162.0" stroke="#333333" stroke-width="1.3"/>
<line x1="94.7" x2="98.5" y1="78.1" y2="78.1" stroke="#333333" stroke-width="1.3"/>
<line x1="197.3" x2="197.3" y1="431.4" y2="435.2" stroke="#333333" stroke-width="1.3"/>
<line x1="310.0" x2="310.0" y1="431.4" y2="435.2" stroke="#333333" stroke-width="1.3"/>
<line x1="422.8" x2="422.8" y1="431.4" y2="435.2" stroke="#333333" stroke-width="1.3"/>
<line x1="535.5" x2="535.5" y1="431.4" y2="435.2" stroke="#333333" stroke-width="1.3"/>
</g>
<g id="ticklabels">
<text transform="translate(91.5 424.4) scale(1 1.07)" text-anchor="end" font-size="26.6" fill="#4D4D4D" stroke="#4D4D4D" stroke-width=".3">0.00</text>
<text transform="translate(91.5 340.5) scale(1 1.07)" text-anchor="end" font-size="26.6" fill="#4D4D4D" stroke="#4D4D4D" stroke-width=".3">0.25</text>
<text transform="translate(91.5 256.6) scale(1 1.07)" text-anchor="end" font-size="26.6" fill="#4D4D4D" stroke="#4D4D4D" stroke-width=".3">0.50</text>
<text transform="translate(91.5 172.6) scale(1 1.07)" text-anchor="end" font-size="26.6" fill="#4D4D4D" stroke="#4D4D4D" stroke-width=".3">0.75</text>
<text transform="translate(91.5 88.7) scale(1 1.07)" text-anchor="end" font-size="26.6" fill="#4D4D4D" stroke="#4D4D4D" stroke-width=".3">1.00</text>
<text transform="translate(197.3 458.1) scale(1 1.07)" text-anchor="middle" font-size="26.6" fill="#4D4D4D" stroke="#4D4D4D" stroke-width=".3">50</text>
<text transform="translate(310.0 458.1) scale(1 1.07)" text-anchor="middle" font-size="26.6" fill="#4D4D4D" stroke="#4D4D4D" stroke-width=".3">70</text>
<text transform="translate(422.8 458.1) scale(1 1.07)" text-anchor="middle" font-size="26.6" fill="#4D4D4D" stroke="#4D4D4D" stroke-width=".3">90</text>
<text transform="translate(535.5 458.1) scale(1 1.07)" text-anchor="middle" font-size="26.6" fill="#4D4D4D" stroke="#4D4D4D" stroke-width=".3">110</text>
</g>
<g id="titles">
<text x="318.6" y="30.7" text-anchor="middle" font-size="39.5" font-weight="bold" fill="#000">New Species</text>
<text x="317.7" y="490.7" text-anchor="middle" font-size="35" font-weight="bold" fill="#000">Age (Months)</text>
<text transform="translate(29.2 240.4) rotate(-90)" text-anchor="middle" font-size="34.8" font-weight="bold" fill="#000">Generalization Accuracy</text>
</g>
<g id="legend">
<text x="558.8" y="223.5" font-size="29.7" fill="#000">Typicality</text>
<circle cx="569.5" cy="244.8" r="5.85" fill="#3279B4" fill-opacity=".5" stroke="#3279B4" stroke-opacity=".28" stroke-width="0.9"/>
<rect x="559.3" y="233.0" width="20.3" height="23.6" fill="#3279B4" fill-opacity=".19"/>
<line x1="560.9" x2="578.0" y1="244.8" y2="244.8" stroke="#3279B4" stroke-width="2.6"/>
<text x="587.2" y="254.5" font-size="25.1" fill="#000">Typical</text>
<circle cx="569.5" cy="268.2" r="5.85" fill="#DCA226" fill-opacity=".5" stroke="#DCA226" stroke-opacity=".28" stroke-width="0.9"/>
<rect x="559.3" y="256.6" width="20.3" height="23.2" fill="#DCA226" fill-opacity=".19"/>
<line x1="560.9" x2="578.0" y1="268.2" y2="268.2" stroke="#DCA226" stroke-width="2.6"/>
<text x="586.5" y="276.2" font-size="25.1" fill="#000">Atypical</text>
</g>
</svg>
</body></html>
